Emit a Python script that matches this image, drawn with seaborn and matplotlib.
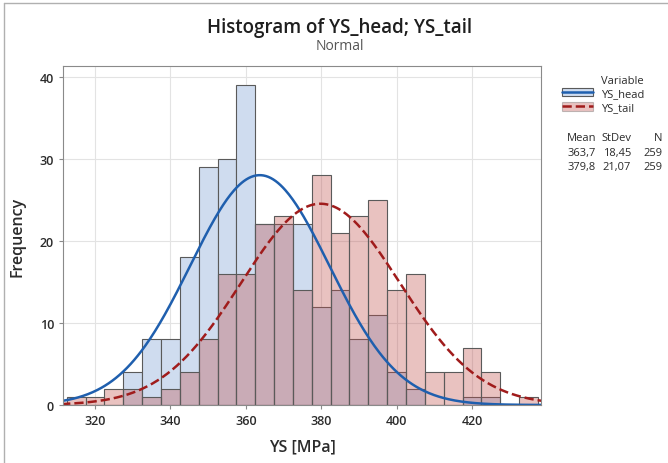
import numpy as np
import pandas as pd
import seaborn as sns

from matplotlib import pyplot as plt
from matplotlib.lines import Line2D
from matplotlib.patches import Patch

# bin centres (MPa), bin width 5
bin_centres = [315, 320, 325, 330, 335, 340, 345, 350, 355, 360, 365, 370, 375,
               380, 385, 390, 395, 400, 405, 410, 415, 420, 425, 430, 435]
head_counts = [0, 0, 0, 4, 8, 8, 18, 29, 30, 39, 22, 22, 22,
               12, 14, 8, 11, 4, 2, 0, 0, 1, 1, 0, 0]
tail_counts = [1, 1, 2, 2, 1, 2, 4, 8, 16, 16, 22, 23, 14,
               28, 21, 23, 25, 14, 16, 4, 4, 7, 4, 0, 1]

variables = ["YS_head", "YS_tail"]
means = [363.7, 379.8]
stdevs = [18.45, 21.07]
ns = [259, 259]
bin_width = 5

sns.set_style("white")
plt.rcParams['font.family'] = ['Open Sans', 'DejaVu Sans']

head_face = "#cfdcef"
tail_color = "#c0504d"
edge = "#5a5a5a"
blue_line = "#1f5fae"
red_line = "#a01c1c"
txt = "#2b2b2b"

df = pd.DataFrame({"centre": bin_centres, "head": head_counts, "tail": tail_counts})
brange = (min(bin_centres) - bin_width / 2, max(bin_centres) + bin_width / 2)

fig = plt.figure(figsize=(6.68, 4.64), dpi=100)
ax = fig.add_axes([63 / 668, 1 - 406 / 464, (541 - 63) / 668, (406 - 67) / 464])

# histograms (head opaque, tail semi transparent on top)
sns.histplot(data=df, x="centre", weights="head", binwidth=bin_width, binrange=brange,
             stat="count", color=head_face, alpha=1.0, edgecolor=edge, linewidth=0.8, ax=ax)
sns.histplot(data=df, x="centre", weights="tail", binwidth=bin_width, binrange=brange,
             stat="count", color=tail_color, alpha=0.35, edgecolor=edge, linewidth=0.8, ax=ax)

# fitted normal curves scaled to counts
xs = np.linspace(311, 440, 400)
for m, s, n, col, ls in zip(means, stdevs, ns, [blue_line, red_line], ["-", "--"]):
    ys = n * bin_width / (s * np.sqrt(2 * np.pi)) * np.exp(-0.5 * ((xs - m) / s) ** 2)
    sns.lineplot(x=xs, y=ys, color=col, linestyle=ls, linewidth=1.8, ax=ax)

ax.set_xlim(311.5, 438.3)
ax.set_ylim(0, 41.3)
ax.set_xticks([320, 340, 360, 380, 400, 420])
ax.set_yticks([0, 10, 20, 30, 40])
ax.grid(True, color="#e3e3e3", linewidth=0.8)
ax.set_axisbelow(True)
for sp in ax.spines.values():
    sp.set_color("#8a8a8a")
    sp.set_linewidth(0.8)
ax.tick_params(axis="both", length=3, width=0.8, color="#8a8a8a",
               labelsize=9, labelcolor=txt, bottom=True, left=True)
for lab in ax.get_xticklabels() + ax.get_yticklabels():
    lab.set_fontweight("semibold")
ax.set_xlabel("YS [MPa]", fontsize=11.5, color=txt, labelpad=8, fontweight="semibold")
ax.set_ylabel("Frequency", fontsize=11.5, color=txt, labelpad=10, fontweight="semibold")

# titles
fig.text(340 / 668, 1 - 28 / 464, "Histogram of YS_head; YS_tail", ha="center", va="center",
         fontsize=13.5, color="#1e1e1e", fontweight="semibold")
fig.text(340 / 668, 1 - 46 / 464, "Normal", ha="center", va="center", fontsize=10, color="#555555")

# legend
handles = [
    (Patch(facecolor=head_face, edgecolor=edge, linewidth=0.8), Line2D([], [], color=blue_line, lw=1.8)),
    (Patch(facecolor=tail_color, alpha=0.35, edgecolor=edge, linewidth=0.8),
     Line2D([], [], color=red_line, lw=1.8, linestyle="--")),
]
fig.text(601 / 668, 1 - 84 / 464, "Variable", ha="left", va="baseline", fontsize=8, color=txt)
fig.legend(handles, variables, loc="upper left", bbox_to_anchor=(562 / 668, 1 - 89 / 464),
           frameon=False, fontsize=8, handlelength=2.8, handleheight=0.75,
           labelspacing=0.3, handletextpad=0.7, borderpad=0, borderaxespad=0,
           labelcolor=txt)

# summary table
col_x = [596 / 668, 631 / 668, 662 / 668]
fig_y = [1 - 141 / 464, 1 - 156 / 464, 1 - 170 / 464]
for x, h in zip(col_x, ["Mean", "StDev", "N"]):
    fig.text(x, fig_y[0], h, ha="right", va="baseline", fontsize=8, color=txt)
for i in range(len(variables)):
    vals = [f"{means[i]:.1f}".replace(".", ","), f"{stdevs[i]:.2f}".replace(".", ","), str(ns[i])]
    for x, v in zip(col_x, vals):
        fig.text(x, fig_y[i + 1], v, ha="right", va="baseline", fontsize=8, color=txt)

# outer frame
fig.add_artist(Line2D([4 / 668, 4 / 668], [0, 1 - 4 / 464], color="#b0b0b0", lw=1))
fig.add_artist(Line2D([4 / 668, 1], [1 - 4 / 464, 1 - 4 / 464], color="#b0b0b0", lw=1))

fig.savefig("out.png", dpi=100)
